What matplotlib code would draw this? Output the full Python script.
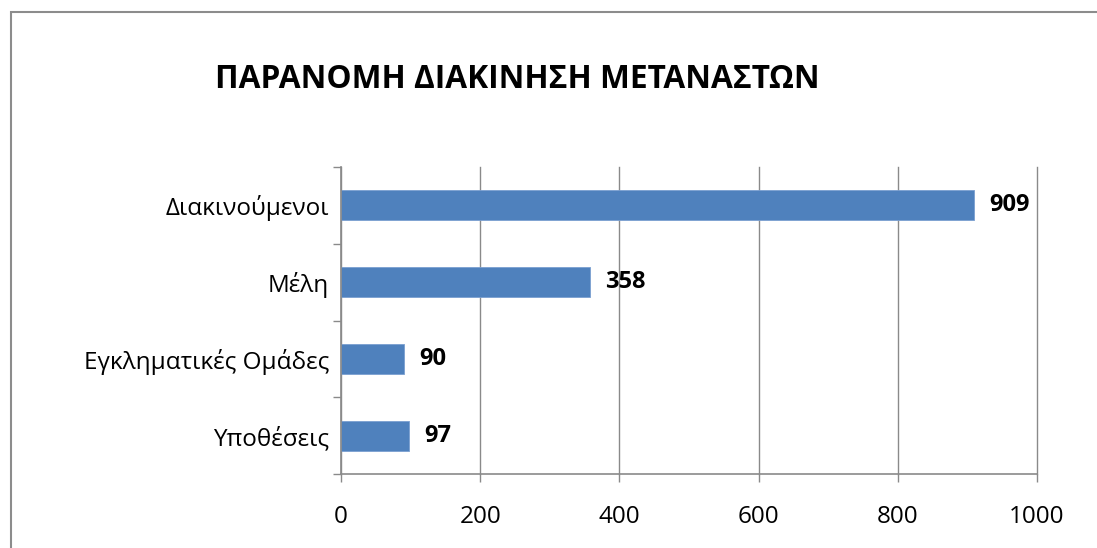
import matplotlib
matplotlib.use("Agg")
import matplotlib.pyplot as plt
from matplotlib.patches import Rectangle

# data (bottom-to-top, as in the original chart)
categories = ["Υποθέσεις", "Εγκληματικές Ομάδες", "Μέλη", "Διακινούμενοι"]
values = [97, 90, 358, 909]
x_ticks = [0, 200, 400, 600, 800, 1000]
title = "ΠΑΡΑΝΟΜΗ ΔΙΑΚΙΝΗΣΗ ΜΕΤΑΝΑΣΤΩΝ"

plt.rcParams["font.family"] = ["Open Sans", "DejaVu Sans"]

W, H = 1097, 548
fig = plt.figure(figsize=(W / 100, H / 100), dpi=100)
fig.patch.set_facecolor("white")

# outer chart border (runs off the right and bottom edge)
fig.patches.append(Rectangle((11 / W, -0.05), 1.1, 1 - 12 / H + 0.05,
                             transform=fig.transFigure, fill=False,
                             edgecolor="#8c8c8c", linewidth=1.5))

ax = fig.add_axes([341 / W, 1 - 474 / H, 696 / W, 307 / H])
grey = "#8a8a8a"

pos = list(range(len(categories)))
ax.barh(pos, values, height=0.39, color="#4f81bd", edgecolor="#7a9fd0",
        linewidth=0.6, zorder=3)

for p, v in zip(pos, values):
    ax.annotate(str(v), (v, p), xytext=(11, 0), textcoords="offset points",
                va="center", ha="left", fontsize=17, fontweight="bold",
                zorder=4)

ax.set_xlim(0, 1000)
ax.set_ylim(-0.5, len(categories) - 0.5)
ax.set_xticks(x_ticks)
ax.set_xticklabels([str(t) for t in x_ticks], fontsize=17.5)
ax.tick_params(axis="x", direction="out", length=6, width=1, color=grey, pad=16)

# ticks at category boundaries, labels at the centres
ax.set_yticks([p - 0.5 for p in pos] + [pos[-1] + 0.5])
ax.set_yticklabels([])
ax.set_yticks(pos, minor=True)
ax.set_yticklabels(categories, minor=True, fontsize=17.5)
ax.tick_params(axis="y", which="major", direction="out", length=6, width=1, color=grey)
ax.tick_params(axis="y", which="minor", length=0, pad=8.5)

ax.grid(axis="x", color=grey, linewidth=1, zorder=1)
for gl in ax.get_xgridlines():
    gl.set_clip_on(False)
ax.set_axisbelow(True)
for s in ["top", "right"]:
    ax.spines[s].set_visible(False)
for s in ["left", "bottom"]:
    ax.spines[s].set_color(grey)
    ax.spines[s].set_linewidth(1.2)
    ax.spines[s].set_zorder(5)

fig.text(215 / W, 1 - 80 / H, title, fontsize=22.8, fontweight="bold",
         ha="left", va="center")

fig.savefig("out.png", dpi=100)
